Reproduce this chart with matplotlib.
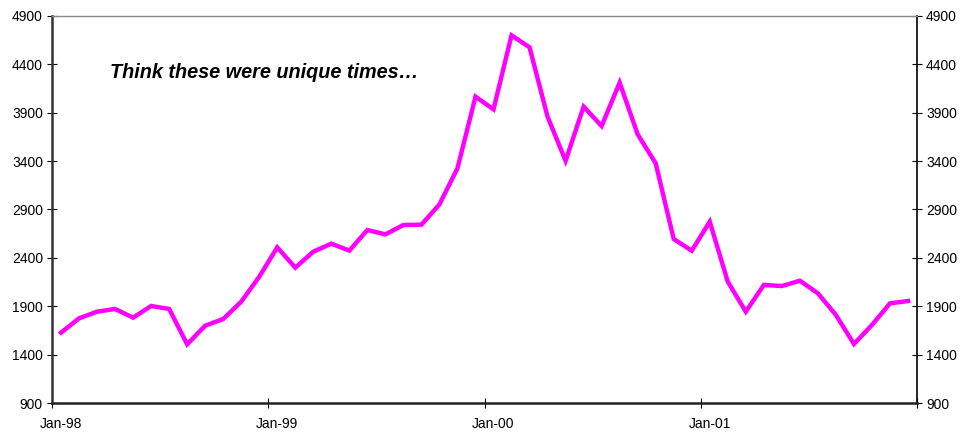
import matplotlib
matplotlib.use('Agg')
import matplotlib.pyplot as plt
from matplotlib import font_manager

# Monthly values, Jan-98 .. Dec-01
months = list(range(48))
values = [1627, 1775, 1844, 1872, 1782, 1903, 1872, 1507, 1699, 1768, 1947, 2205,
          2509, 2299, 2464, 2547, 2475, 2688, 2643, 2740, 2743, 2953, 3326, 4066,
          3935, 4700, 4576, 3859, 3404, 3963, 3763, 4211, 3677, 3377, 2595, 2474,
          2774, 2154, 1844, 2120, 2109, 2164, 2034, 1810, 1510, 1706, 1930, 1954]
year_labels = ['Jan-98', 'Jan-99', 'Jan-00', 'Jan-01']
y_ticks = [900, 1400, 1900, 2400, 2900, 3400, 3900, 4400, 4900]

names = {f.name for f in font_manager.fontManager.ttflist}
tick_font = 'Liberation Sans Narrow' if 'Liberation Sans Narrow' in names else 'Liberation Sans'

fig = plt.figure(figsize=(9.69, 4.36), dpi=100)
ax = fig.add_axes([52 / 969, 33 / 436, 865 / 969, 387 / 436])

ax.plot(months, values, color='#FF00FF', lw=3.2, solid_joinstyle='miter')

ax.set_xlim(-0.5, 47.5)
ax.set_ylim(900, 4900)

# year boundaries as tick marks, labels centred under January
ax.set_xticks([-0.5, 11.5, 23.5, 35.5, 47.5])
ax.set_xticklabels([])
ax.set_xticks([0, 12, 24, 36], minor=True)
ax.set_xticklabels(year_labels, minor=True, fontfamily=tick_font, fontsize=10)
ax.tick_params(axis='x', which='major', direction='inout', length=7, width=0.8)
ax.tick_params(axis='x', which='minor', length=0, pad=10)

ax.set_yticks(y_ticks)
ax.set_yticklabels([str(v) for v in y_ticks], fontfamily=tick_font, fontsize=10)
ax.tick_params(axis='y', direction='inout', length=7, width=0.8, right=True,
               labelright=True, pad=3)

ax.spines['left'].set_color('#333333')
ax.spines['left'].set_linewidth(1.8)
ax.spines['bottom'].set_color('#222222')
ax.spines['bottom'].set_linewidth(1.8)
ax.spines['top'].set_color('#888888')
ax.spines['top'].set_linewidth(1.0)
ax.spines['right'].set_color('black')
ax.spines['right'].set_linewidth(1.2)

fig.text(110 / 969, 1 - 72 / 436, 'Think these were unique times\u2026',
         fontfamily='Liberation Sans', fontsize=14.3, fontweight='bold',
         fontstyle='italic', va='center', ha='left')

fig.savefig('out.png', dpi=100)
